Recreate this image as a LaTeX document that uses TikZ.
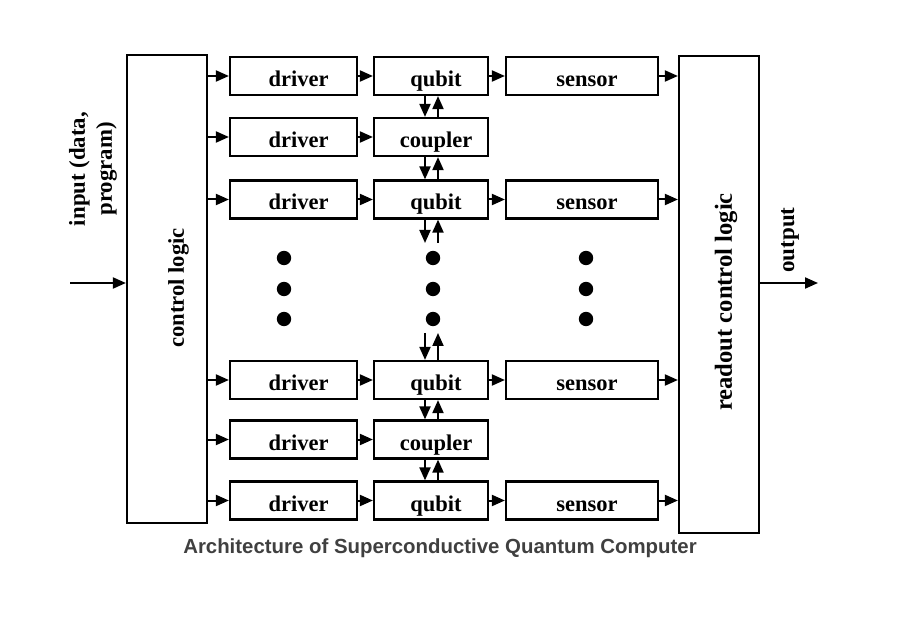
\documentclass[tikz,border=0pt]{standalone}
\usepackage{fontspec}
\setmainfont{Liberation Serif}
\newfontfamily\titlefont{Liberation Sans}
\usetikzlibrary{arrows.meta}
\definecolor{titlegray}{HTML}{404040}
\begin{document}
\begin{tikzpicture}[x=1pt,y=-1pt,
  box/.style={draw, line width=2.2pt, minimum height=38pt, inner sep=0pt,
    text height=21pt, text depth=0pt,
    font=\fontsize{22.5}{25}\selectfont\bfseries, execute at begin node={\hspace*{10pt}}},
  drv/.style={box, minimum width=127pt},
  qb/.style={box, minimum width=114pt},
  sns/.style={box, minimum width=152pt},
  bigbox/.style={draw, line width=2.2pt, minimum width=80pt, inner sep=0pt},
  vlabel/.style={rotate=90, font=\fontsize{22.6}{25}\selectfont\bfseries, align=center},
  arr/.style={-{Triangle[length=13pt,width=11pt]}, line width=2pt},
  dot/.style={fill=black}
]
\useasboundingbox (0,0) rectangle (900,644);

% big boxes
\node[bigbox, minimum height=468pt] (ctrl) at (167,289) {};
\node[bigbox, minimum height=477pt] (rd) at (719,294.5) {};
\node[vlabel] (ctrlt) at (178.5,288) {control logic};
\node[vlabel, font=\fontsize{24.6}{27}\selectfont\bfseries] (rdt) at (726,302) {readout control logic};

% rows
\node[drv] (d1) at (293.5,76) {driver};
\node[qb]  (q1) at (431,76) {qubit};
\node[sns] (s1) at (582,76) {sensor};

\node[drv] (d2) at (293.5,137) {driver};
\node[qb]  (c1) at (431,137) {coupler};

\node[drv] (d3) at (293.5,199.5) {driver};
\node[qb]  (q2) at (431,199.5) {qubit};
\node[sns] (s2) at (582,199.5) {sensor};

\node[drv] (d4) at (293.5,380) {driver};
\node[qb]  (q3) at (431,380) {qubit};
\node[sns] (s3) at (582,380) {sensor};

\node[drv] (d5) at (293.5,439.5) {driver};
\node[qb]  (c2) at (431,439.5) {coupler};

\node[drv] (d6) at (293.5,500.5) {driver};
\node[qb]  (q4) at (431,500.5) {qubit};
\node[sns] (s4) at (582,500.5) {sensor};

% horizontal arrows
\foreach \d in {d1,d2,d3,d4,d5,d6}
  \draw[arr] (\d.west -| ctrl.east) -- (\d.west);
\draw[arr] (d1) -- (q1);
\draw[arr] (d2) -- (c1);
\draw[arr] (d3) -- (q2);
\draw[arr] (d4) -- (q3);
\draw[arr] (d5) -- (c2);
\draw[arr] (d6) -- (q4);
\draw[arr] (q1) -- (s1);
\draw[arr] (q2) -- (s2);
\draw[arr] (q3) -- (s3);
\draw[arr] (q4) -- (s4);
\foreach \s in {s1,s2,s3,s4}
  \draw[arr] (\s.east) -- (\s.east -| rd.west);

% vertical arrows
\draw[arr] ([xshift=-6pt]q1.south) -- ([xshift=-6pt]c1.north);
\draw[arr] ([xshift=7pt]c1.north) -- ([xshift=7pt]q1.south);
\draw[arr] ([xshift=-6pt]c1.south) -- ([xshift=-6pt]q2.north);
\draw[arr] ([xshift=7pt]q2.north) -- ([xshift=7pt]c1.south);

\coordinate (vb) at (431,243);
\coordinate (vt) at (431,333);
\draw[arr] ([xshift=-6pt]q2.south) -- ([xshift=-6pt]q2.south |- vb);
\draw[arr] ([xshift=7pt]q2.south |- vb) -- ([xshift=7pt]q2.south);
\draw[arr] ([xshift=-6pt]q3.north |- vt) -- ([xshift=-6pt]q3.north);
\draw[arr] ([xshift=7pt]q3.north) -- ([xshift=7pt]q3.north |- vt);

\draw[arr] ([xshift=-6pt]q3.south) -- ([xshift=-6pt]c2.north);
\draw[arr] ([xshift=7pt]c2.north) -- ([xshift=7pt]q3.south);
\draw[arr] ([xshift=-6pt]c2.south) -- ([xshift=-6pt]q4.north);
\draw[arr] ([xshift=7pt]q4.north) -- ([xshift=7pt]c2.south);

% dots
\foreach \x in {284,433,586}
  \foreach \y in {258,289,319}
    \fill[dot] (\x,\y) circle (7.2pt);

% input / output
\coordinate (inp) at (70,283);
\draw[arr] (inp) -- (inp -| ctrl.west);
\node[vlabel, font=\fontsize{22.8}{27}\selectfont\bfseries] (inpt) at (93,169) {input (data,\\program)};
\coordinate (outp) at (818,283);
\draw[arr] (outp -| rd.east) -- (outp);
\node[vlabel, font=\fontsize{23}{26}\selectfont\bfseries] (outt) at (790,240) {output};

% title
\node[font=\titlefont\fontsize{20.4}{24}\selectfont\bfseries, text=titlegray] (title) at (440,548) {Architecture of Superconductive Quantum Computer};
\end{tikzpicture}
\end{document}
